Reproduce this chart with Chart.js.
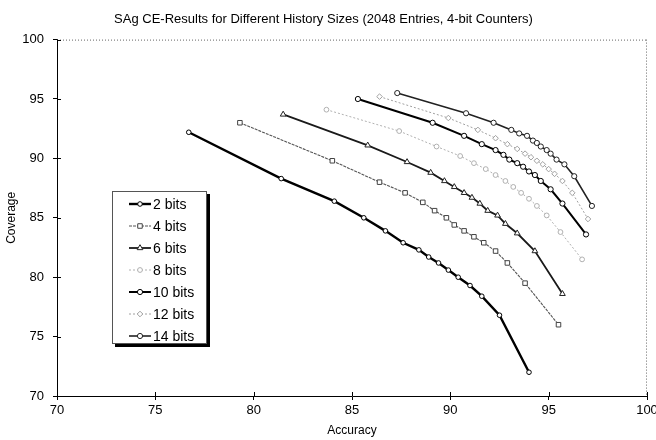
<!DOCTYPE html>
<html>
<head>
<meta charset="utf-8">
<script src="https://cdn.jsdelivr.net/npm/chart.js@4.4.1/dist/chart.umd.min.js"></script>
<style>
html,body{margin:0;padding:0;background:#fff;}
#wrap{width:656px;height:440px;position:relative;}
</style>
</head>
<body>
<div id="wrap"><canvas id="c" width="656" height="440"></canvas></div>
<script>
// ---- data (Accuracy %, Coverage %) ----
const seriesLabels = ["2 bits","4 bits","6 bits","8 bits","10 bits","12 bits","14 bits"];
const acc2  = [76.7,81.4,84.1,85.6,86.7,87.6,88.4,88.9,89.4,89.9,90.4,91.0,91.6,92.5,94.0];
const cov2  = [92.2,88.3,86.4,85.0,83.9,82.9,82.3,81.7,81.2,80.6,80.0,79.3,78.4,76.8,72.0];
const acc4  = [79.3,84.0,86.4,87.7,88.6,89.2,89.8,90.2,90.7,91.2,91.7,92.3,92.9,93.8,95.5];
const cov4  = [93.0,89.8,88.0,87.1,86.3,85.6,85.0,84.4,83.9,83.4,82.9,82.2,81.2,79.5,76.0];
const acc6  = [81.5,85.8,87.8,89.0,89.7,90.2,90.7,91.1,91.5,91.9,92.4,92.8,93.4,94.3,95.7];
const cov6  = [93.7,91.1,89.7,88.8,88.1,87.6,87.1,86.7,86.2,85.6,85.2,84.5,83.7,82.2,78.6];
const acc8  = [83.7,87.4,89.3,90.5,91.2,91.8,92.3,92.8,93.2,93.6,94.0,94.4,94.9,95.6,96.7];
const cov8  = [94.1,92.3,91.0,90.2,89.6,89.1,88.6,88.1,87.6,87.1,86.6,86.0,85.2,83.8,81.5];
const acc10 = [85.3,89.1,90.7,91.6,92.3,92.7,93.0,93.4,93.7,94.0,94.3,94.6,95.1,95.7,96.9];
const cov10 = [95.0,93.0,91.9,91.2,90.7,90.3,89.9,89.6,89.3,88.9,88.6,88.1,87.4,86.2,83.6];
const acc12 = [86.4,89.9,91.4,92.3,92.9,93.4,93.8,94.1,94.4,94.7,95.0,95.3,95.7,96.2,97.0];
const cov12 = [95.2,93.4,92.4,91.7,91.2,90.8,90.4,90.1,89.8,89.5,89.1,88.7,88.1,87.1,84.9];
const acc14 = [87.3,90.8,92.2,93.1,93.5,93.9,94.2,94.4,94.6,94.9,95.1,95.4,95.8,96.3,97.2];
const cov14 = [95.5,93.8,93.0,92.4,92.1,91.9,91.5,91.3,91.0,90.7,90.4,89.9,89.5,88.5,86.0];
const xTicks = [70,75,80,85,90,95,100];
const yTicks = [70,75,80,85,90,95,100];

const accs = [acc2,acc4,acc6,acc8,acc10,acc12,acc14];
const covs = [cov2,cov4,cov6,cov8,cov10,cov12,cov14];

const styles = [
  {c:'#000', w:2.4, dash:[],    ps:'circle',  pr:2.3, pc:'#000'},
  {c:'#555', w:1.1, dash:[3,1], ps:'rect',    pr:3.2, pc:'#444'},
  {c:'#1a1a1a', w:1.8, dash:[], ps:'triangle',pr:3.3, pc:'#222'},
  {c:'#b0b0b0', w:1, dash:[2,2], ps:'circle', pr:2.4, pc:'#b0b0b0'},
  {c:'#000', w:2,   dash:[],    ps:'circle',  pr:2.6, pc:'#000'},
  {c:'#a0a0a0', w:1, dash:[2,2], ps:'rectRot',pr:2.8, pc:'#a0a0a0'},
  {c:'#222', w:1.6, dash:[],    ps:'circle',  pr:2.6, pc:'#222'}
];

const FONT = "'Liberation Sans', Arial, sans-serif";

const datasets = seriesLabels.map((lab,i)=>({
  label: lab,
  data: accs[i].map((a,j)=>({x:a, y:covs[i][j]})),
  showLine: true,
  borderColor: styles[i].c,
  borderWidth: styles[i].w,
  borderDash: styles[i].dash,
  pointStyle: styles[i].ps,
  pointRadius: styles[i].pr,
  pointBorderColor: styles[i].pc,
  pointBackgroundColor: '#fff',
  pointBorderWidth: 1,
  tension: 0
}));

const framePlugin = {
  id: 'frame',
  afterDraw(chart){
    const {ctx, chartArea:{left,right,top,bottom}, scales:{x,y}} = chart;
    ctx.save();
    // dotted top and right border
    ctx.strokeStyle = '#666';
    ctx.lineWidth = 1;
    ctx.setLineDash([1,2]);
    ctx.beginPath();
    ctx.moveTo(left, top+0.5); ctx.lineTo(right, top+0.5);
    ctx.moveTo(right-0.5, top); ctx.lineTo(right-0.5, bottom);
    ctx.stroke();
    ctx.setLineDash([]);
    // inner tick marks (crossing ticks)
    ctx.strokeStyle = '#000';
    ctx.beginPath();
    xTicks.forEach(v=>{
      const px = Math.round(x.getPixelForValue(v))+0.5;
      ctx.moveTo(px, bottom); ctx.lineTo(px, bottom-4);
    });
    yTicks.forEach(v=>{
      const py = Math.round(y.getPixelForValue(v))+0.5;
      ctx.moveTo(left, py); ctx.lineTo(left+4, py);
    });
    ctx.stroke();

    // legend box
    const bx = 112, by = 191, bw = 95, bh = 153;
    ctx.fillStyle = '#000';
    ctx.fillRect(bx+3, by+3, bw, bh);
    ctx.fillStyle = '#fff';
    ctx.fillRect(bx, by, bw, bh);
    ctx.strokeStyle = '#555';
    ctx.lineWidth = 1;
    ctx.strokeRect(bx+0.5, by+0.5, bw-1, bh-1);
    ctx.font = '14px ' + FONT;
    ctx.textBaseline = 'middle';
    ctx.textAlign = 'left';
    chart.data.datasets.forEach((ds,i)=>{
      const cy = by + 13 + i*22;
      ctx.strokeStyle = ds.borderColor;
      ctx.lineWidth = ds.borderWidth;
      ctx.setLineDash(ds.borderDash);
      ctx.beginPath();
      ctx.moveTo(129, cy); ctx.lineTo(151, cy);
      ctx.stroke();
      ctx.setLineDash([]);
      ctx.lineWidth = 1;
      ctx.strokeStyle = ds.pointBorderColor;
      ctx.fillStyle = '#fff';
      Chart.helpers.drawPoint(ctx, {pointStyle: ds.pointStyle, radius: ds.pointRadius, borderWidth:1}, 140, cy);
      ctx.fillStyle = '#000';
      ctx.fillText(ds.label, 153, cy+1);
    });
    ctx.restore();
  }
};

new Chart(document.getElementById('c'), {
  type: 'scatter',
  data: { datasets },
  options: {
    responsive: false,
    animation: false,
    events: [],
    layout: { padding: { left: 0, right: 9, top: 0, bottom: 0 } },
    plugins: {
      legend: { display: false },
      tooltip: { enabled: false },
      title: {
        display: true,
        text: 'SAg CE-Results for Different History Sizes (2048 Entries, 4-bit Counters)',
        color: '#000',
        font: { family: FONT, size: 13, weight: 'normal' },
        padding: { top: 12, bottom: 12 }
      }
    },
    scales: {
      x: {
        type: 'linear',
        min: 70, max: 100,
        afterBuildTicks(s){ s.ticks = xTicks.map(v=>({value:v})); },
        afterFit(s){ s.height = 44; s.paddingRight = 0; s.paddingLeft = 0; },
        ticks: { color:'#000', font:{family:FONT, size:13}, padding: 3, maxRotation:0 },
        grid: { drawOnChartArea:false, drawTicks:true, tickLength:4, color:'#000' },
        border: { color:'#000', width:1 },
        title: { display:true, text:'Accuracy', color:'#000', font:{family:FONT, size:12}, padding:{top:2, bottom:2} }
      },
      y: {
        type: 'linear',
        min: 70, max: 100,
        afterBuildTicks(s){ s.ticks = yTicks.map(v=>({value:v})); },
        afterFit(s){ s.width = 57; },
        ticks: { color:'#000', font:{family:FONT, size:13}, padding: 9 },
        grid: { drawOnChartArea:false, drawTicks:true, tickLength:4, color:'#000' },
        border: { color:'#000', width:1 },
        title: { display:true, text:'Coverage', color:'#000', font:{family:FONT, size:12}, padding:{top:4, bottom:2} }
      }
    }
  },
  plugins: [framePlugin]
});
</script>
</body>
</html>
